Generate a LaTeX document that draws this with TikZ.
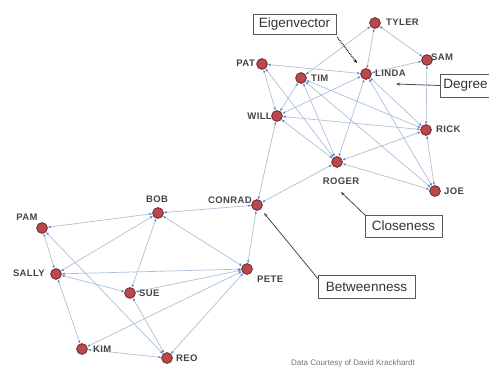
\documentclass[tikz,border=0pt]{standalone}
\usepackage{fontspec}
\setmainfont{Liberation Sans}
\newfontfamily\lblfont[LetterSpace=4]{Liberation Sans}
\usetikzlibrary{arrows.meta}
\definecolor{nodefill}{HTML}{B84A4E}
\definecolor{nodeline}{HTML}{7A2E30}
\definecolor{edgecol}{HTML}{AEC0D8}
\definecolor{tipcol}{HTML}{5584C6}
\definecolor{txtcol}{HTML}{454545}
\tikzset{
  person/.style={circle, fill=nodefill, draw=nodeline, line width=0.8pt,
    minimum size=10.5pt, inner sep=0pt},
  pname/.style={text=txtcol, inner sep=0pt,
    font=\lblfont\fontsize{9.5}{9.5}\selectfont\bfseries},
  tie/.style={draw=edgecol, line width=0.7pt,
    {Latex[length=3pt,width=2.4pt,color=tipcol]}-{Latex[length=3pt,width=2.4pt,color=tipcol]}},
  callout/.style={draw=black!65, line width=0.8pt, fill=white, inner sep=0pt,
    text=black!80, font=\fontsize{13.5}{13.5}\selectfont},
  pointer/.style={draw=black!70, line width=0.8pt, -{Stealth[length=4pt,width=3pt]}}
}
\begin{document}
\begin{tikzpicture}[x=1pt, y=-1pt]
\clip (0,0) rectangle (489,371);
\fill[white] (0,0) rectangle (489,371);

% people
\node[person] (tyler)  at (375,23)  {};
\node[person] (sam)    at (427,60)  {};
\node[person] (linda)  at (366,74)  {};
\node[person] (tim)    at (301,78)  {};
\node[person] (pat)    at (262,64)  {};
\node[person] (will)   at (277,116) {};
\node[person] (rick)   at (426,130) {};
\node[person] (roger)  at (337,162) {};
\node[person] (joe)    at (435,191) {};
\node[person] (conrad) at (257,205) {};
\node[person] (bob)    at (158,213) {};
\node[person] (pam)    at (42,228)  {};
\node[person] (sally)  at (56,274)  {};
\node[person] (sue)    at (130,293) {};
\node[person] (pete)   at (247,269) {};
\node[person] (kim)    at (82,349)  {};
\node[person] (reo)    at (167,358) {};

% ties
\foreach \a/\b in {tyler/tim, tyler/linda, tyler/sam, sam/linda, sam/rick,
  pat/linda, pat/will, pat/roger, tim/will, tim/roger, tim/rick, tim/joe,
  linda/will, linda/roger, linda/rick, linda/joe, will/rick, will/roger,
  will/conrad, roger/rick, roger/joe, roger/conrad, rick/joe,
  pam/bob, pam/sally, pam/reo, bob/sally, bob/sue, bob/pete, bob/conrad,
  sally/pete, sally/sue, sally/kim, sue/pete, sue/reo, kim/pete, kim/reo,
  reo/pete, conrad/pete}
  \draw[tie] (\a) -- (\b);

% redraw people on top of the ties
\foreach \p in {tyler,sam,linda,tim,pat,will,rick,roger,joe,conrad,bob,pam,sally,sue,pete,kim,reo}
  \node[person] at (\p) {};

% names
\node[pname, anchor=west] (tylerL)  at (386,22)  {TYLER};
\node[pname, anchor=west] (samL)    at (431,57)  {SAM};
\node[pname, anchor=west] (lindaL)  at (375,73)  {LINDA};
\node[pname, anchor=west] (timL)    at (311,78.5){TIM};
\node[pname, anchor=east] (patL)    at (255,63)  {PAT};
\node[pname, anchor=east] (willL)   at (272,116) {WILL};
\node[pname, anchor=west] (rickL)   at (436,129) {RICK};
\node[pname]              (rogerL)  at (341,181) {ROGER};
\node[pname, anchor=west] (joeL)    at (444,191) {JOE};
\node[pname, anchor=east] (conradL) at (252,200) {CONRAD};
\node[pname]              (bobL)    at (157,199) {BOB};
\node[pname]              (pamL)    at (27,217)  {PAM};
\node[pname, anchor=east] (sallyL)  at (45,273)  {SALLY};
\node[pname, anchor=west] (sueL)    at (139,293) {SUE};
\node[pname, anchor=west] (peteL)   at (257,279) {PETE};
\node[pname, anchor=west] (kimL)    at (93,349)  {KIM};
\node[pname, anchor=west] (reoL)    at (176,358) {REO};

% centrality call-outs
\node[callout, minimum width=83pt, minimum height=20pt] (eigen) at (294.5,24) {Eigenvector};
\node[callout, minimum width=65pt, minimum height=23pt, anchor=west, text width=59pt, align=left] (degree) at (440,85.5) {Degree};
\node[callout, minimum width=77pt, minimum height=22pt] (close) at (403.5,226) {Closeness};
\node[callout, minimum width=97pt, minimum height=23pt] (between) at (366.5,286.5) {Betweenness};

\coordinate (eigenTip)   at (357,63);
\coordinate (degreeTip)  at (396,84);
\coordinate (closeTip)   at (341,192);
\coordinate (betweenTip) at (264,213);
\draw[pointer, draw=black, densely dotted, line width=1.2pt] (eigen.south east) ++(1,3) coordinate (eigenFoot) -- (eigenTip);
\draw[pointer] (degree.west) -- (degreeTip);
\draw[pointer] (close.north west) ++(1,1) coordinate (closeFoot) -- (closeTip);
\draw[pointer] (between.west) ++(1,-7) coordinate (betweenFoot) -- (betweenTip);

\node[text=black!55, font=\fontsize{8}{8}\selectfont] (credit) at (353,363) {Data Courtesy of David Krackhardt};
\end{tikzpicture}
\end{document}
